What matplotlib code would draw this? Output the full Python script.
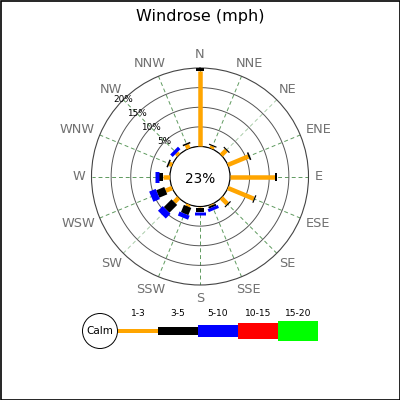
import numpy as np
import matplotlib
matplotlib.use('Agg')
import matplotlib.pyplot as plt

# data: percentage of time per direction and speed range (mph)
directions = ['N', 'NNE', 'NE', 'ENE', 'E', 'ESE', 'SE', 'SSE',
              'S', 'SSW', 'SW', 'WSW', 'W', 'WNW', 'NW', 'NNW']
ranges = ['1-3', '3-5', '5-10', '10-15', '15-20']
speed_1_3 = [19.3, 0.7, 1.8, 5.7, 11.5, 7.2, 2.2, 0.3,
             0.3, 0.6, 1.6, 1.8, 1.8, 0.8, 0.8, 1.1]
speed_3_5 = [0.85, 0.3, 0.3, 0.4, 0.6, 0.3, 0.3, 0.5,
             1.0, 2.0, 2.8, 2.2, 1.0, 0.4, 0.0, 0.4]
speed_5_10 = [0, 0, 0, 0, 0, 0, 0, 0.8,
              0.85, 1.1, 1.7, 1.8, 1.1, 0, 0.9, 0]
calm_pct = 23
rings = [5, 10, 15, 20]

colors = ['#ffa500', 'black', '#0000ff', '#ff0000', '#00ff00']
bar_px = [4.5, 8, 11]
legend_px = [4, 8, 12, 16, 20]

PT = 0.72  # points per pixel at dpi 100
outer_px, calm_px = 108.5, 30.0
cx, cy = 200, 176.5
calm_r = 20 * calm_px / (outer_px - calm_px)
px_per_unit = outer_px / (20 + calm_r)

# rough DejaVu Sans advance widths (em) for the compass letters
char_em = {'N': 0.748, 'E': 0.632, 'S': 0.635, 'W': 0.989}
label_em_px = 12.9

fig = plt.figure(figsize=(4, 4), dpi=100)
fig.patch.set_facecolor('white')

# overlay axes in pixel units for legend / border
lax = fig.add_axes([0, 0, 1, 1])
lax.set_xlim(0, 400)
lax.set_ylim(400, 0)
lax.axis('off')
lax.add_patch(plt.Rectangle((0.5, 0.5), 399, 399, fill=False, ec='black', lw=1.2))

ax = fig.add_axes([(cx - outer_px) / 400, (400 - cy - outer_px) / 400,
                   2 * outer_px / 400, 2 * outer_px / 400], projection='polar')
ax.set_theta_zero_location('N')
ax.set_theta_direction(-1)
ax.set_ylim(0, 20)
ax.set_rorigin(-calm_r)
ax.set_xticks([])
ax.set_yticks([])
ax.grid(False)
ax.spines['polar'].set_color('#444444')
ax.spines['polar'].set_linewidth(0.8)
ax.set_facecolor('none')

thetas = np.deg2rad(np.arange(16) * 22.5)
circ = np.linspace(0, 2 * np.pi, 200)

# radial grid lines
for i, t in enumerate(thetas):
    c = '#aaccaa' if i in (2, 10) else '#5f9a5f'
    ax.plot([t, t], [0, 20], color=c, lw=0.7, ls=(0, (4, 3)), zorder=1)

# rings
for r in rings[:-1]:
    ax.plot(circ, np.full_like(circ, r), color='#555555', lw=0.7, zorder=1)
ax.fill(circ, np.zeros_like(circ), color='white', zorder=1.5)
ax.plot(circ, np.zeros_like(circ), color='#555555', lw=0.8, zorder=2)

# bars
series = [speed_1_3, speed_3_5, speed_5_10]
for i, t in enumerate(thetas):
    start = 0
    for k, vals in enumerate(series):
        v = vals[i]
        if v > 0:
            ax.plot([t, t], [start, start + v], color=colors[k],
                    lw=bar_px[k] * PT, solid_capstyle='butt', zorder=3 + k)
        start += v

# ring labels along NW
for r in rings:
    ax.text(np.deg2rad(315), r + 0.1, f'{r}%', fontsize=6.4, ha='center',
            va='center', zorder=10)

# compass labels
label_r = 115 / px_per_unit - calm_r
for lbl, t in zip(directions, thetas):
    w = sum(char_em[ch] for ch in lbl) * label_em_px
    ax.annotate(lbl, xy=(t, label_r),
                xytext=(np.sin(t) * w / 2 * PT, np.cos(t) * 7.5 * PT),
                textcoords='offset points', ha='center', va='center',
                fontsize=9.3, color='#707070', annotation_clip=False)

ax.text(0.5, 0.49, f'{calm_pct}%', transform=ax.transAxes, ha='center',
        va='center', fontsize=9.8, zorder=10)

fig.text(0.5, 1 - 17 / 400, 'Windrose (mph)', ha='center', va='center',
         fontsize=11.5)

# legend
leg_y = 331
lax.add_patch(plt.Circle((100, leg_y), 17.5, fc='white', ec='black', lw=0.7))
lax.text(100, leg_y, 'Calm', ha='center', va='center', fontsize=7.5)
x0 = 118
for k, lbl in enumerate(ranges):
    lax.plot([x0 + 40 * k, x0 + 40 * (k + 1)], [leg_y, leg_y], color=colors[k],
             lw=legend_px[k] * PT, solid_capstyle='butt')
    lax.text(x0 + 40 * k + 20, 314, lbl, ha='center', va='center', fontsize=6.6)

fig.savefig('out.png', dpi=100)
